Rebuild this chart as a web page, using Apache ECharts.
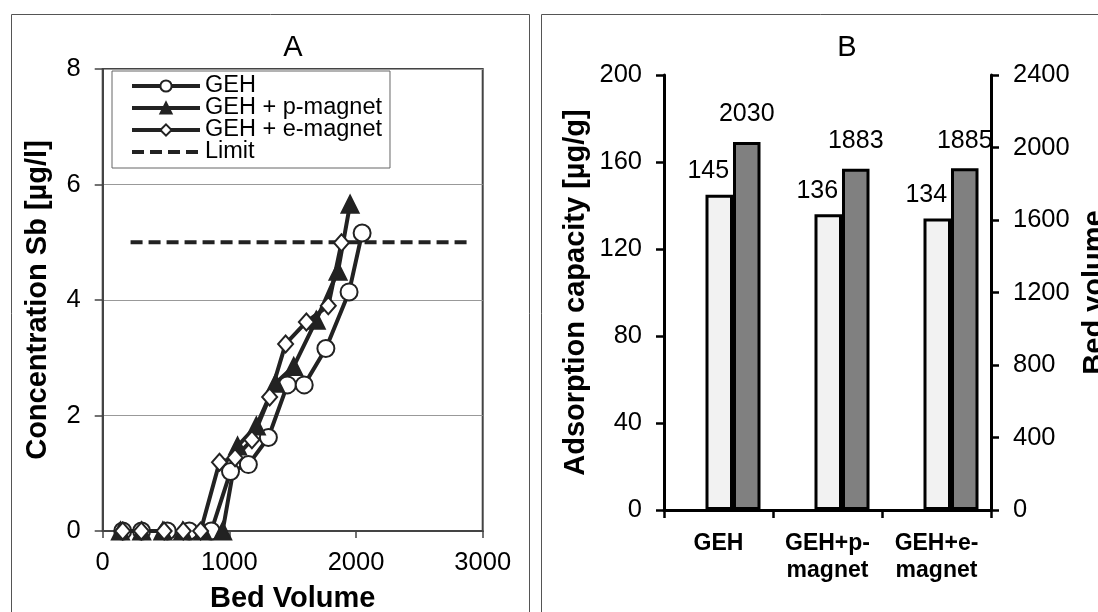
<!DOCTYPE html>
<html>
<head>
<meta charset="utf-8">
<script src="https://cdn.jsdelivr.net/npm/echarts@6/dist/echarts.min.js"></script>
<style>
  html, body { margin: 0; padding: 0; background: #fff; }
  #chart { width: 1098px; height: 612px; }
</style>
</head>
<body>
<div id="chart"></div>
<script>
// Panel A: breakthrough curves (bed volume vs Sb concentration)
const gehBV = [158, 307, 510, 683, 857, 1009, 1150, 1308, 1458, 1591, 1762, 1945, 2048];
const gehSb = [0, 0, 0, 0, 0, 1.03, 1.15, 1.62, 2.53, 2.53, 3.16, 4.14, 5.16];
const pMagBV = [140, 308, 475, 632, 790, 947, 1065, 1213, 1364, 1508, 1686, 1858, 1953];
const pMagSb = [0, 0, 0, 0, 0, 0, 1.47, 1.82, 2.56, 2.85, 3.65, 4.5, 5.66];
const eMagBV = [158, 305, 485, 636, 773, 922, 1045, 1178, 1318, 1444, 1608, 1781, 1885];
const eMagSb = [0, 0, 0, 0, 0, 1.19, 1.27, 1.58, 2.32, 3.24, 3.62, 3.9, 4.99];
const limitBV = [220, 2890];
const limitSb = [5, 5];

// Panel B: capacity and bed volume at breakthrough
const categories = ["GEH", "GEH+p-\nmagnet", "GEH+e-\nmagnet"];
const capacity = [145, 136, 134];
const bedVolume = [2030, 1883, 1885];

const FONT = "Liberation Sans, Arial, sans-serif";
const INK = "#222";

const pairs = (xs, ys) => xs.map((x, i) => [x, ys[i]]);
const plain = (v) => String(v); // no thousands separator

const chart = echarts.init(document.getElementById("chart"));

function lineSeries(name, xs, ys, symbol, filled) {
  return {
    name: name,
    type: "line",
    xAxisIndex: 0,
    yAxisIndex: 0,
    data: pairs(xs, ys),
    symbol: symbol,
    symbolSize: symbol === "diamond" ? [15, 17] : 17,
    showAllSymbol: true,
    lineStyle: { color: INK, width: 4 },
    itemStyle: { color: filled ? INK : "#fff", borderColor: INK, borderWidth: 2 },
    emphasis: { disabled: true },
    z: 3
  };
}

const option = {
  animation: false,
  textStyle: { fontFamily: FONT },
  graphic: [
    { type: "rect", shape: { x: 11.5, y: 14.5, width: 518, height: 700 },
      style: { fill: "none", stroke: "#555", lineWidth: 1 } },
    { type: "rect", shape: { x: 541.5, y: 14.5, width: 600, height: 700 },
      style: { fill: "none", stroke: "#555", lineWidth: 1 } }
  ],
  title: [
    { text: "A", left: 288, top: 28, textAlign: "center",
      textStyle: { fontSize: 29, fontWeight: "normal", color: "#000", fontFamily: FONT } },
    { text: "B", left: 842, top: 28, textAlign: "center",
      textStyle: { fontSize: 29, fontWeight: "normal", color: "#000", fontFamily: FONT } }
  ],
  legend: {
    data: [
      "GEH",
      "GEH + p-magnet",
      "GEH + e-magnet",
      { name: "Limit", itemStyle: { opacity: 0 } }
    ],
    orient: "vertical",
    left: 112,
    top: 71,
    padding: [3, 8, 4, 18],
    itemWidth: 68,
    itemHeight: 14,
    itemGap: -2,
    backgroundColor: "#fff",
    borderColor: "#666",
    borderWidth: 1,
    lineStyle: { width: 4 },
    textStyle: { fontSize: 23.5, color: "#000", fontFamily: FONT }
  },
  grid: [
    { left: 102.7, top: 69, width: 380, height: 462, show: true, outerBoundsMode: "none",
      borderColor: "#444", borderWidth: 2, backgroundColor: "transparent" },
    { left: 664, top: 75, width: 327, height: 435, outerBoundsMode: "none" }
  ],
  xAxis: [
    {
      type: "value", gridIndex: 0, min: 0, max: 3000, interval: 1000,
      name: "Bed Volume", nameLocation: "middle", nameGap: 53,
      nameTextStyle: { fontSize: 29, fontWeight: "bold", color: "#000" },
      axisLine: { show: true, lineStyle: { color: "#444", width: 2 } },
      axisTick: { show: true, length: 7, lineStyle: { color: "#444", width: 1.5 } },
      axisLabel: { fontSize: 25.5, color: "#000", margin: 19, formatter: plain },
      splitLine: { show: false }
    },
    {
      type: "category", gridIndex: 1, data: categories,
      axisLine: { show: true, lineStyle: { color: "#000", width: 3 } },
      axisTick: { show: true, length: 8, lineStyle: { color: "#000", width: 2.5 } },
      axisLabel: { interval: 0, fontSize: 23, fontWeight: "bold", color: "#000",
        margin: 20, lineHeight: 27 }
    }
  ],
  yAxis: [
    {
      type: "value", gridIndex: 0, min: 0, max: 8, interval: 2,
      name: "Concentration Sb [µg/l]", nameLocation: "middle", nameGap: 50, nameRotate: 90,
      nameTextStyle: { fontSize: 29, fontWeight: "bold", color: "#000" },
      axisLine: { show: true, lineStyle: { color: "#444", width: 2 } },
      axisTick: { show: true, length: 8, lineStyle: { color: "#444", width: 1.5 } },
      axisLabel: { fontSize: 25.5, color: "#000", margin: 22 },
      splitLine: { show: true, lineStyle: { color: "#999", width: 1 } }
    },
    {
      type: "value", gridIndex: 1, position: "left", min: 0, max: 200, interval: 40,
      name: "Adsorption capacity [µg/g]", nameLocation: "middle", nameGap: 74, nameRotate: 90,
      nameTextStyle: { fontSize: 29, fontWeight: "bold", color: "#000" },
      axisLine: { show: true, lineStyle: { color: "#000", width: 3 } },
      axisTick: { show: true, length: 8, lineStyle: { color: "#000", width: 2.5 } },
      axisLabel: { fontSize: 25.5, color: "#000", margin: 22 },
      splitLine: { show: false }
    },
    {
      type: "value", gridIndex: 1, position: "right", min: 0, max: 2400, interval: 400,
      name: "Bed volume", nameLocation: "middle", nameGap: 89, nameRotate: 90,
      nameTextStyle: { fontSize: 29, fontWeight: "bold", color: "#000" },
      axisLine: { show: true, lineStyle: { color: "#000", width: 3 } },
      axisTick: { show: true, length: 8, lineStyle: { color: "#000", width: 2.5 } },
      axisLabel: { fontSize: 25.5, color: "#000", margin: 22, formatter: plain },
      splitLine: { show: false }
    }
  ],
  series: [
    lineSeries("GEH", gehBV, gehSb, "circle", false),
    lineSeries("GEH + p-magnet", pMagBV, pMagSb, "triangle", true),
    lineSeries("GEH + e-magnet", eMagBV, eMagSb, "diamond", false),
    {
      name: "Limit",
      type: "line",
      xAxisIndex: 0,
      yAxisIndex: 0,
      data: pairs(limitBV, limitSb),
      symbol: "none",
      lineStyle: { color: INK, width: 4, type: [12, 6] },
      itemStyle: { color: INK },
      emphasis: { disabled: true },
      z: 2
    },
    {
      // empty slot that pushes each bar pair right of the category centre, as in the original
      name: "spacer",
      type: "bar",
      xAxisIndex: 1,
      yAxisIndex: 1,
      data: categories.map(() => null),
      barWidth: 29,
      barGap: "0%",
      itemStyle: { color: "transparent" },
      silent: true
    },
    {
      name: "capacity",
      type: "bar",
      xAxisIndex: 1,
      yAxisIndex: 1,
      data: capacity,
      barWidth: 27.5,
      barGap: "0%",
      itemStyle: { color: "#f2f2f2", borderColor: "#000", borderWidth: 3 },
      label: { show: true, position: "top", distance: 11, offset: [-11, 0],
        fontSize: 25, color: "#000" },
      emphasis: { disabled: true }
    },
    {
      name: "bed volume",
      type: "bar",
      xAxisIndex: 1,
      yAxisIndex: 2,
      data: bedVolume,
      barWidth: 27.5,
      barGap: "0%",
      itemStyle: { color: "#808080", borderColor: "#000", borderWidth: 3 },
      label: { show: true, position: "top", distance: 15,
        fontSize: 25, color: "#000" },
      emphasis: { disabled: true }
    }
  ]
};

chart.setOption(option);
</script>
</body>
</html>
